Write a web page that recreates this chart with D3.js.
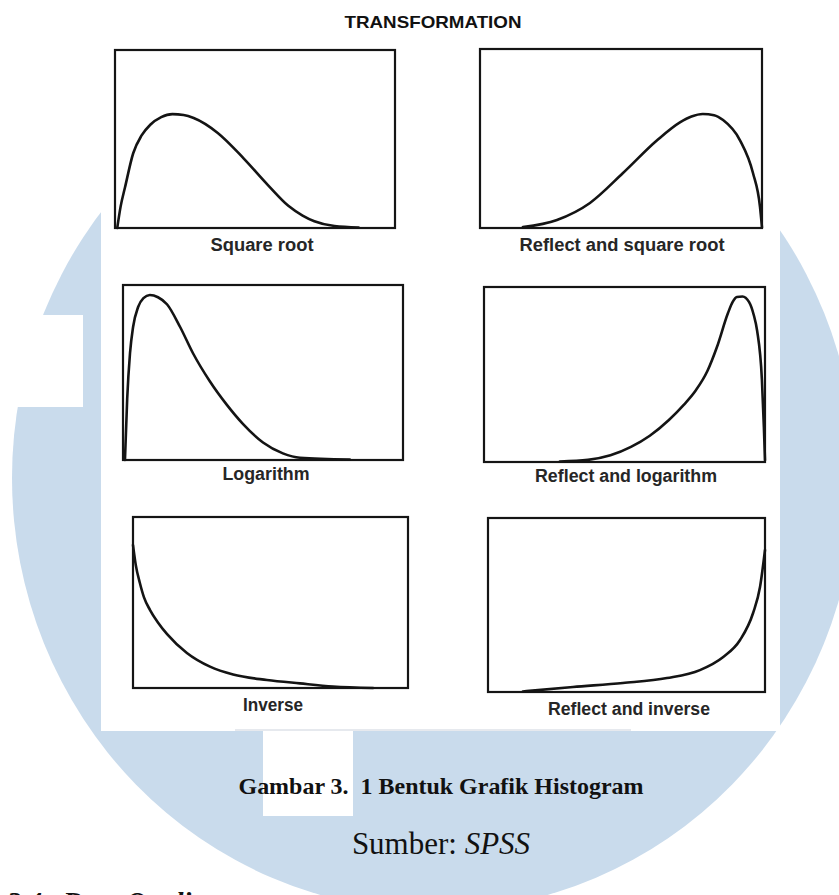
<!DOCTYPE html>
<html>
<head>
<meta charset="utf-8">
<script src="https://cdn.jsdelivr.net/npm/d3@7"></script>
<style>
  html, body { margin: 0; padding: 0; background: #ffffff; }
  svg { display: block; }
  text { white-space: pre; }
</style>
</head>
<body>
<svg id="chart" width="839" height="895"></svg>
<script>
// ---------- DATA (x: % of box width, y: % of box height) ----------
const chartTitle = "TRANSFORMATION";
const panelLabels = ["Square root", "Reflect and square root", "Logarithm",
                     "Reflect and logarithm", "Inverse", "Reflect and inverse"];

const squareRoot = [[0.8,0],[2,12],[3.6,23],[6.5,42],[9.5,52],[12.6,58],[16.5,62.3],[20.5,64],
  [24.5,63.5],[28.1,61.8],[36.7,53.4],[46,39],[54.7,24],[61.9,12.5],[67,7],[71.2,3.8],[78.4,1.1],[87,0.3]];
const reflectSquareRoot = [[15.2,0.5],[27.3,4.5],[39,14],[50.7,30.7],[62.8,49],[70.9,59],
  [75,62.3],[79,63.7],[83,63],[86.2,60.3],[92.2,49],[96.8,30.7],[99.3,11.7],[100,0.3]];
const logarithm = [[0.7,0],[1.5,35],[2.5,61],[3.6,76],[5.4,87.4],[7.3,92.5],[9.6,94.3],[12.5,93],
  [15.7,89],[20.4,76],[25,61],[31,45],[37.1,31.5],[42.9,20.5],[50,10],[57.1,3.8],[63.2,1.3],[81,0.3]];
const reflectLogarithm = [[27,0.3],[37,1.2],[45,3.8],[52.3,8.6],[59,15],[65.8,24],[71,32.5],
  [75.4,41],[79.5,52],[82.9,65.7],[86.8,85],[88.5,91.5],[90,94.3],[92,94.6],[94.3,91.5],
  [96,84],[97.2,75],[98.9,47],[99.6,20],[100,1]];
const inverse = [[0,83.6],[1,72],[2.5,61.4],[4,53],[6.2,45.6],[9,38.5],[12.4,31.5],[19.6,20.5],
  [28,12.5],[36.4,7.9],[48.7,4.7],[60.7,2.7],[72.7,0.9],[87.3,0]];
const reflectInverse = [[12.6,0.3],[30.7,2.9],[48.7,5.2],[64.6,8],[76.5,12.6],[84.8,20],
  [91,29.9],[95.7,45.4],[98.2,60.3],[100,81.6]];

const curves = [squareRoot, reflectSquareRoot, logarithm, reflectLogarithm, inverse, reflectInverse];

const captionText = "Gambar 3.  1 Bentuk Grafik Histogram";
const sourceLabel = "Sumber: ";
const sourceName = "SPSS";
const nextHeading = "3.3.4   Data Quality";

// ---------- LAYOUT ----------
const svg = d3.select("#chart");
const boxes = [
  {x0:115, x1:395, y0:50,  y1:228, lx:262, ly:251, lw:103},
  {x0:480, x1:762, y0:49,  y1:228, lx:622, ly:251, lw:205},
  {x0:123, x1:403, y0:285, y1:460, lx:266, ly:480, lw:87},
  {x0:484, x1:765, y0:287, y1:462, lx:626, ly:482, lw:182},
  {x0:133, x1:408, y0:517, y1:688, lx:273, ly:711, lw:60},
  {x0:488, x1:765, y0:518, y1:692, lx:629, ly:715, lw:162}
];

// watermark background
const wm = "#c9dbec";
svg.append("ellipse").attr("cx", 434).attr("cy", 478).attr("rx", 422).attr("ry", 433).attr("fill", wm);
svg.append("rect").attr("x", 0).attr("y", 315).attr("width", 83).attr("height", 92).attr("fill", "#fff");
svg.append("rect").attr("x", 263).attr("y", 728).attr("width", 90).attr("height", 88).attr("fill", "#fff");
// scanned figure area
svg.append("rect").attr("x", 101).attr("y", 0).attr("width", 679).attr("height", 731).attr("fill", "#fff");
svg.append("line").attr("x1", 235).attr("x2", 631).attr("y1", 730).attr("y2", 730)
  .attr("stroke", "#e6e9ee").attr("stroke-width", 2);

// title
svg.append("text").attr("x", 433).attr("y", 28).attr("text-anchor", "middle")
  .attr("font-family", "Liberation Sans, Arial, sans-serif").attr("font-weight", "bold")
  .attr("font-size", 16.5).attr("fill", "#111")
  .attr("textLength", 177).attr("lengthAdjust", "spacingAndGlyphs")
  .text(chartTitle);

boxes.forEach((b, i) => {
  const x = d3.scaleLinear().domain([0, 100]).range([b.x0, b.x1]);
  const y = d3.scaleLinear().domain([0, 100]).range([b.y1, b.y0]);
  const g = svg.append("g");
  g.append("rect").attr("x", x(0)).attr("y", y(100))
    .attr("width", x(100) - x(0)).attr("height", y(0) - y(100))
    .attr("fill", "none").attr("stroke", "#151515").attr("stroke-width", 2.2);
  const line = d3.line().x(d => x(d[0])).y(d => y(d[1])).curve(d3.curveMonotoneX);
  g.append("path").datum(curves[i]).attr("d", line)
    .attr("fill", "none").attr("stroke", "#141414").attr("stroke-width", 2.6)
    .attr("stroke-linecap", "round");
  g.append("text").attr("x", b.lx).attr("y", b.ly).attr("text-anchor", "middle")
    .attr("font-family", "Liberation Sans, Arial, sans-serif").attr("font-weight", "bold")
    .attr("font-size", 18).attr("fill", "#262626")
    .attr("textLength", b.lw).attr("lengthAdjust", "spacingAndGlyphs")
    .text(panelLabels[i]);
});

// caption
svg.append("text").attr("x", 441).attr("y", 794).attr("text-anchor", "middle")
  .attr("font-family", "Liberation Serif, Times New Roman, serif").attr("font-weight", "bold")
  .attr("font-size", 23).attr("fill", "#111")
  .attr("textLength", 405).attr("lengthAdjust", "spacingAndGlyphs")
  .text(captionText);

const src = svg.append("text").attr("x", 441).attr("y", 854).attr("text-anchor", "middle")
  .attr("font-family", "Liberation Serif, Times New Roman, serif")
  .attr("font-size", 31).attr("fill", "#111");
src.append("tspan").text(sourceLabel);
src.append("tspan").attr("font-style", "italic").text(sourceName);

svg.append("text").attr("x", -14).attr("y", 911)
  .attr("font-family", "Liberation Serif, Times New Roman, serif").attr("font-weight", "bold")
  .attr("font-style", "italic").attr("font-size", 28).attr("fill", "#111")
  .text(nextHeading);
</script>
</body>
</html>
